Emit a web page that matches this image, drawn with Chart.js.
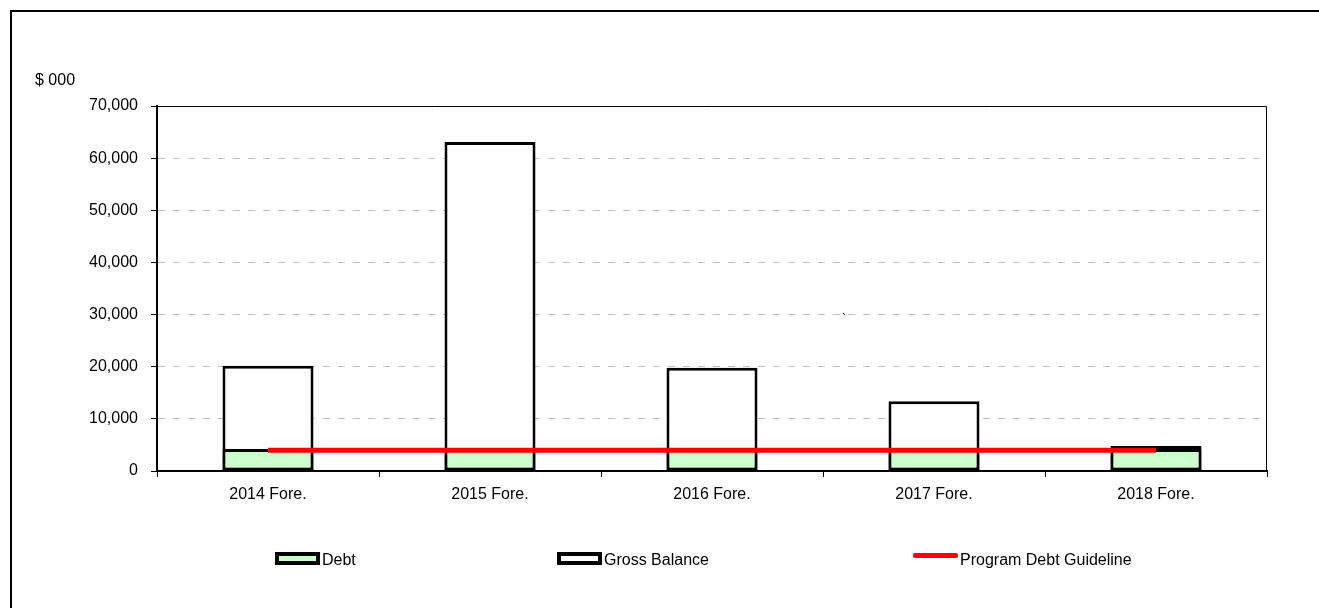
<!DOCTYPE html>
<html>
<head>
<meta charset="utf-8">
<title>Debt vs Gross Balance</title>
<script src="https://cdn.jsdelivr.net/npm/chart.js@4.4.1/dist/chart.umd.min.js"></script>
<style>
  html, body { margin: 0; padding: 0; background: #fff; }
  body { width: 1319px; height: 608px; position: relative; overflow: hidden; font-family: "Liberation Sans", Arial, sans-serif; }
  .frame { position: absolute; left: 10px; top: 10px; width: 1400px; height: 700px; border-left: 2px solid #000; border-top: 2px solid #000; }
  #chart { position: absolute; left: 0; top: 0; }
  .unit { position: absolute; left: 35px; top: 72px; font-size: 16px; line-height: 16px; color: #000; }
  .stray { position: absolute; left: 842px; top: 313px; font-size: 12px; line-height: 12px; color: #000; }
  .legend-item { position: absolute; top: 552px; font-size: 16px; line-height: 16px; color: #000; white-space: nowrap; }
  .swatch { position: absolute; box-sizing: border-box; }
</style>
</head>
<body>
<div class="frame"></div>
<canvas id="chart" width="1319" height="608"></canvas>
<div class="unit">$ 000</div>
<div class="stray">`</div>
<div id="legend"></div>
<script>
const categories = ["2014 Fore.", "2015 Fore.", "2016 Fore.", "2017 Fore.", "2018 Fore."];
const debt = [4200, 4200, 4200, 4200, 4200];
const grossBalance = [20200, 63100, 19800, 13400, 4800];
const debtGuideline = [4000, 4000, 4000, 4000, 4000];
const yTicks = [0, 10000, 20000, 30000, 40000, 50000, 60000, 70000];

const palette = {
  debt: "#ccffcc",
  gross: "#ffffff",
  guideline: "#ff0000",
  grid: "#c0c0c0",
  text: "#000000"
};

const font = { family: "'Liberation Sans', Arial, sans-serif", size: 16 };

// thin frame on top/right of plot area (left/bottom come from axis borders)
const plotFrame = {
  id: "plotFrame",
  afterDraw(chart) {
    const a = chart.chartArea;
    const ctx = chart.ctx;
    ctx.save();
    ctx.strokeStyle = "#000";
    ctx.lineWidth = 1;
    ctx.beginPath();
    ctx.moveTo(a.left, a.top + 0.5);
    ctx.lineTo(a.right - 0.5, a.top + 0.5);
    ctx.lineTo(a.right - 0.5, a.bottom);
    ctx.stroke();
    ctx.restore();
  }
};

new Chart(document.getElementById("chart").getContext("2d"), {
  type: "bar",
  data: {
    labels: categories,
    datasets: [
      {
        type: "line",
        label: "Program Debt Guideline",
        data: debtGuideline,
        borderColor: palette.guideline,
        borderWidth: 5,
        pointRadius: 0,
        fill: false,
        order: 0
      },
      {
        label: "Debt",
        data: debt,
        backgroundColor: palette.debt,
        borderColor: "#000",
        borderWidth: 3,
        borderSkipped: false,
        grouped: false,
        categoryPercentage: 1,
        barPercentage: 0.41,
        order: 1
      },
      {
        label: "Gross Balance",
        data: grossBalance,
        backgroundColor: palette.gross,
        borderColor: "#000",
        borderWidth: 3,
        borderSkipped: false,
        grouped: false,
        categoryPercentage: 1,
        barPercentage: 0.41,
        order: 2
      }
    ]
  },
  options: {
    responsive: false,
    animation: false,
    layout: { padding: { top: 106, right: 52, bottom: 0, left: 0 } },
    plugins: {
      legend: { display: false },
      tooltip: { enabled: false }
    },
    scales: {
      x: {
        offset: true,
        afterFit(s) { s.height = 137; },
        grid: { offset: true, drawOnChartArea: false, tickLength: 6, color: "#000", tickColor: "#000" },
        border: { display: true, color: "#000", width: 2 },
        ticks: { color: palette.text, font: font, padding: 8, maxRotation: 0 }
      },
      y: {
        min: 0,
        max: 70000,
        afterFit(s) { s.width = 157; },
        afterBuildTicks(s) { s.ticks = yTicks.map(v => ({ value: v })); },
        grid: {
          color: c => (c.tick && (c.tick.value === 0 || c.tick.value === 70000)) ? "rgba(0,0,0,0)" : palette.grid,
          tickColor: "#000",
          tickBorderDash: [],
          tickLength: 6,
          lineWidth: 1
        },
        border: { display: true, color: "#000", width: 2, dash: [7, 8] },
        ticks: {
          color: palette.text,
          font: font,
          padding: 13,
          callback: v => v.toLocaleString("en-US")
        }
      }
    }
  },
  plugins: [plotFrame]
});

// legend placed like the original sheet's legend
const legendItems = [
  { text: "Debt", x: 275, fill: palette.debt, kind: "box" },
  { text: "Gross Balance", x: 557, fill: palette.gross, kind: "box" },
  { text: "Program Debt Guideline", x: 913, fill: palette.guideline, kind: "line" }
];
const legend = document.getElementById("legend");
legendItems.forEach(item => {
  const sw = document.createElement("div");
  sw.className = "swatch";
  sw.style.left = item.x + "px";
  sw.style.width = "45px";
  if (item.kind === "box") {
    sw.style.top = "552px";
    sw.style.height = "13px";
    sw.style.background = item.fill;
    sw.style.border = "4px solid #000";
  } else {
    sw.style.top = "553px";
    sw.style.height = "5px";
    sw.style.background = item.fill;
    sw.style.borderRadius = "2px";
  }
  legend.appendChild(sw);
  const label = document.createElement("div");
  label.className = "legend-item";
  label.style.left = (item.x + 47) + "px";
  label.textContent = item.text;
  legend.appendChild(label);
});
</script>
</body>
</html>
